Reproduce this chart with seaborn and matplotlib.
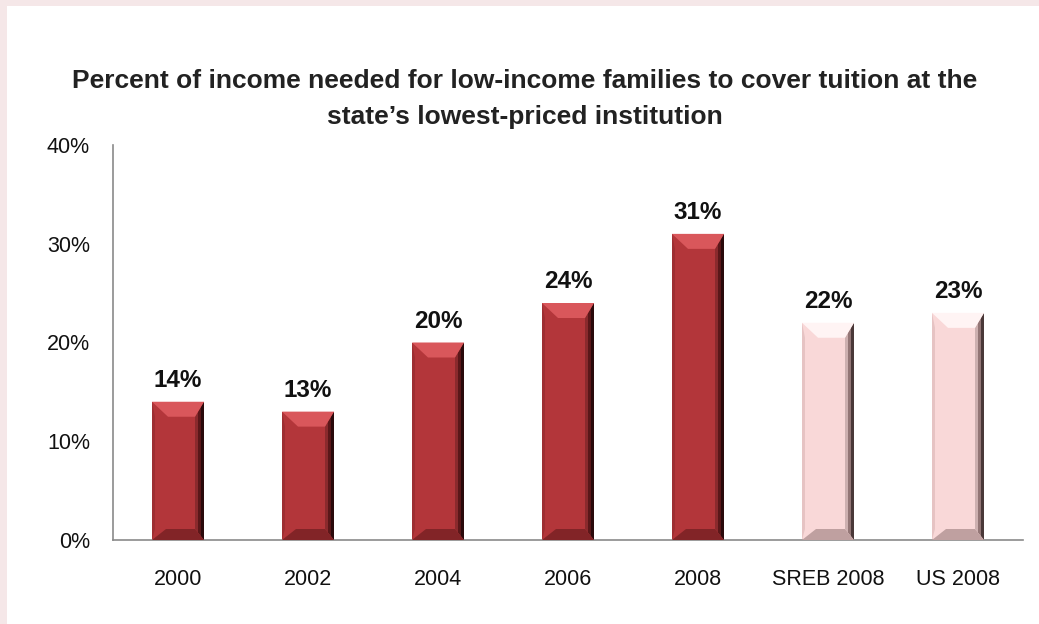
import numpy as np
import pandas as pd
import matplotlib
matplotlib.use('Agg')
import matplotlib.pyplot as plt
from matplotlib.patches import Polygon, Rectangle
from matplotlib.ticker import FuncFormatter
import seaborn as sns

# Chart data
categories = ['2000', '2002', '2004', '2006', '2008', 'SREB 2008', 'US 2008']
values = [14, 13, 20, 24, 31, 22, 23]
title = "Percent of income needed for low-income families to cover tuition at the\nstate\u2019s lowest-priced institution"

red = {'face': '#B3363A', 'top': '#D9575B', 'left': '#9E2E32', 'bottom': '#822427', 'right': ['#8a2a2d', '#5a1719', '#2a0a0b']}
pink = {'face': '#F9D8D8', 'top': '#FFF4F4', 'left': '#E6C3C3', 'bottom': '#BFA0A0', 'right': ['#cdb0b0', '#937676', '#4a3838']}
styles = [red] * 5 + [pink] * 2

sns.set_theme(style='white')
plt.rcParams['font.family'] = ['Liberation Sans', 'DejaVu Sans']

df = pd.DataFrame({'cat': categories, 'val': np.array(values) / 100.0})

fig = plt.figure(figsize=(10.39, 6.24), dpi=100)
fig.patch.set_facecolor('#F5E7E8')
fig.patches.append(Rectangle((7 / 1039, 0), 1, 1 - 6 / 624, transform=fig.transFigure,
                             facecolor='white', edgecolor='none', zorder=-5))

ax = fig.add_axes([113 / 1039, 1 - 540 / 624, 910 / 1039, 395 / 624])
ax.set_zorder(2)
ax.set_facecolor('none')
sns.barplot(data=df, x='cat', y='val', hue='cat', palette=[s['face'] for s in styles],
            width=0.4, legend=False, ax=ax, saturation=1, edgecolor='none')

ax.set_xlim(-0.5, len(categories) - 0.5)
ax.set_ylim(0, 0.4)
ax.set_yticks([0, 0.1, 0.2, 0.3, 0.4])
ax.yaxis.set_major_formatter(FuncFormatter(lambda v, _: f'{v * 100:.0f}%'))
ax.set_xlabel('')
ax.set_ylabel('')
ax.tick_params(axis='y', labelsize=15.5, pad=16.5, length=0, colors='#111111')
ax.tick_params(axis='x', labelsize=15.5, pad=21, length=0, colors='#111111')
for side in ['top', 'right']:
    ax.spines[side].set_visible(False)
for side in ['left', 'bottom']:
    ax.spines[side].set_color('#8a8a8a')
    ax.spines[side].set_linewidth(1.2)

# pixel -> data conversions for the bevel effect
px_x = (ax.get_xlim()[1] - ax.get_xlim()[0]) / 910
px_y = (ax.get_ylim()[1] - ax.get_ylim()[0]) / 395
ex = 9 * px_x
et, eb = 15 * px_y, 11 * px_y

for p, s, v in zip(ax.patches, styles, values):
    x0, w, h = p.get_x(), p.get_width(), p.get_height()
    x1 = x0 + w
    ax.add_patch(Polygon([(x0, 0), (x0, h), (x0 + 3 * px_x, h - et), (x0 + 3 * px_x, eb)],
                         facecolor=s['left'], edgecolor='none', zorder=3))
    # right side gradient
    n = len(s['right'])
    for i, c in enumerate(s['right']):
        a = x1 - ex * (n - i) / n
        b = x1 - ex * (n - i - 1) / n
        ax.add_patch(Polygon([(a, eb * (n - i) / n), (b, eb * (n - i - 1) / n),
                              (b, h - et * (n - i - 1) / n), (a, h - et * (n - i) / n)],
                             facecolor=c, edgecolor='none', zorder=3))
    ax.add_patch(Polygon([(x0, 0), (x1, 0), (x1 - ex, eb), (x0 + 14 * px_x, eb)],
                         facecolor=s['bottom'], edgecolor='none', zorder=4))
    ax.add_patch(Polygon([(x0, h), (x1, h), (x1 - ex, h - et), (x0 + 16 * px_x, h - et)],
                         facecolor=s['top'], edgecolor='none', zorder=4))
    ax.annotate(f'{v}%', (x0 + w / 2, h), xytext=(0, 7), textcoords='offset points',
                ha='center', va='bottom', fontsize=17.5, fontweight='bold', color='#111111')

fig.text(525 / 1039, 1 - 99 / 624, title, ha='center', va='center', fontsize=19,
         fontweight='bold', color='#222222', linespacing=1.62)

fig.savefig('out.png', dpi=100, facecolor=fig.get_facecolor())
